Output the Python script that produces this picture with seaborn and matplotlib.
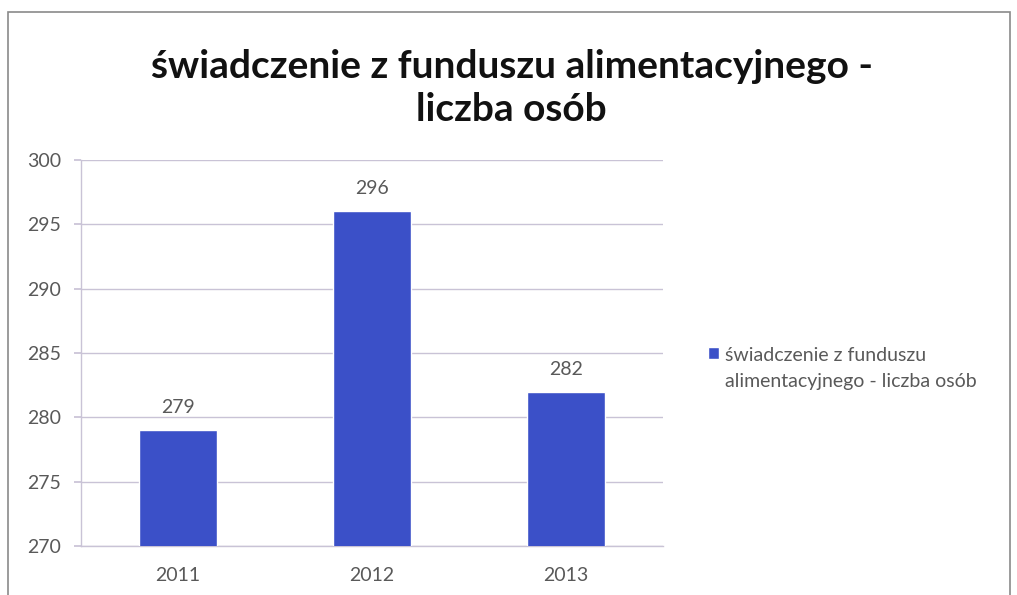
import matplotlib
matplotlib.use("Agg")
import matplotlib.pyplot as plt
import seaborn as sns
import pandas as pd
from matplotlib.patches import Rectangle

years = ["2011", "2012", "2013"]
counts = [279, 296, 282]
series_name = "świadczenie z funduszu alimentacyjnego - liczba osób"
title = "świadczenie z funduszu alimentacyjnego -\nliczba osób"
y_ticks = [270, 275, 280, 285, 290, 295, 300]

df = pd.DataFrame({"rok": years, "liczba": counts, "seria": series_name})

sns.set_theme(style="white")
plt.rcParams["font.family"] = ["Lato", "DejaVu Sans"]

bar_color = "#3b50c8"
text_gray = "#595959"
grid_color = "#c9c3d6"

fig = plt.figure(figsize=(10.17, 5.95), dpi=100)
ax = fig.add_axes([0.0796, 0.0824, 0.572, 0.649])

sns.barplot(data=df, x="rok", y="liczba", hue="seria", palette=[bar_color],
            saturation=1, width=0.4, ax=ax, zorder=3)

ax.set_ylim(270, 300)
ax.set_yticks(y_ticks)
ax.set_xlim(-0.5, 2.5)
ax.set_xlabel("")
ax.set_ylabel("")
ax.yaxis.grid(True, color=grid_color, linewidth=1)
ax.set_axisbelow(True)
for side in ["top", "right"]:
    ax.spines[side].set_visible(False)
for side in ["left", "bottom"]:
    ax.spines[side].set_color(grid_color)
    ax.spines[side].set_linewidth(1)
ax.tick_params(axis="y", length=5, color=grid_color, pad=9, labelsize=14,
               labelcolor=text_gray, left=True)
ax.tick_params(axis="x", length=0, pad=15, labelsize=14, labelcolor=text_gray)

for container in ax.containers:
    ax.bar_label(container, labels=[str(v) for v in counts], padding=10,
                 fontsize=14, color=text_gray)

leg = ax.legend(handles=ax.get_legend_handles_labels()[0],
                labels=["świadczenie z funduszu\nalimentacyjnego - liczba osób"],
                loc="center left", bbox_to_anchor=(0.679, 0.38),
                bbox_transform=fig.transFigure, frameon=False, fontsize=14,
                handlelength=0.55, handleheight=0.55, handletextpad=0.3,
                labelcolor=text_gray)
leg.get_texts()[0].set_linespacing(1.65)
# keep the square beside the first line of the label
for col in leg._legend_handle_box.get_children():
    for item in col.get_children():
        item.align = "top"

fig.text(0.503, 0.852, title, ha="center", va="center", fontsize=28,
         fontweight="bold", color="#111111", linespacing=1.3)

# chart area border
fig.patches.append(Rectangle((0.008, -0.05), 0.985, 1.03, transform=fig.transFigure,
                             fill=False, edgecolor="#8a8a8a", linewidth=1.2))

fig.savefig("out.png", dpi=100)
